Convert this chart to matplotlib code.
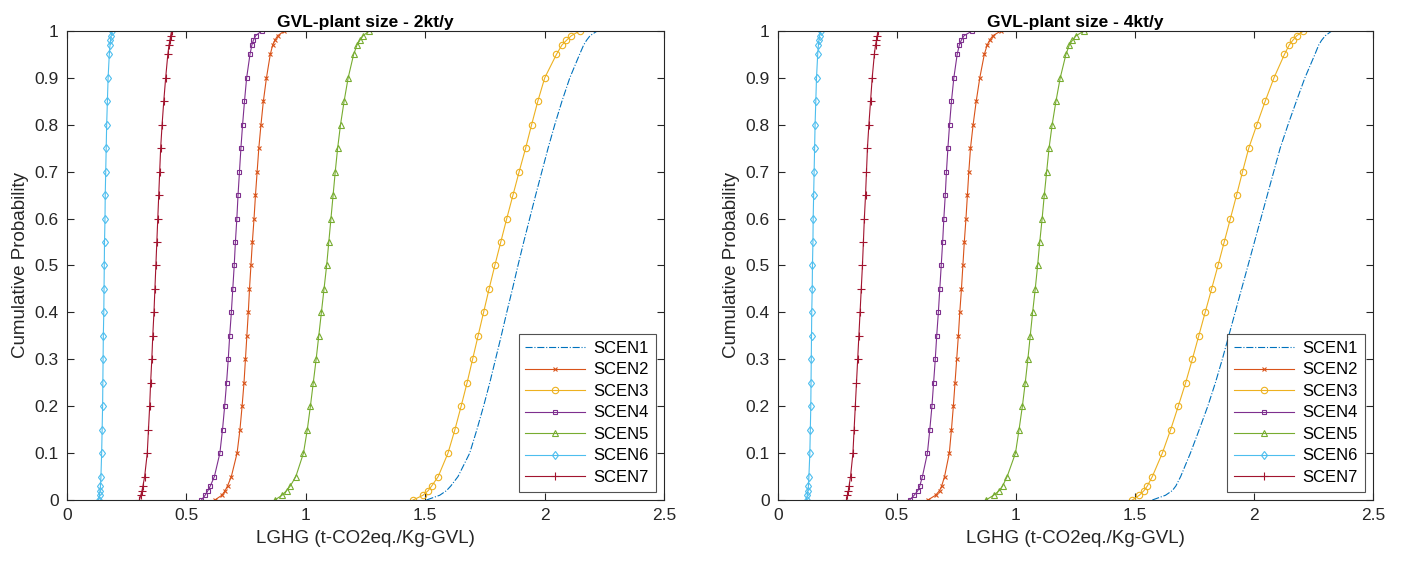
import matplotlib
matplotlib.use('Agg')
import matplotlib.pyplot as plt

plt.rcParams['font.family'] = ['Liberation Sans', 'DejaVu Sans']

# cumulative probability levels (common to every curve)
prob = [0, .01, .02, .03, .05, .1, .15, .2, .25, .3, .35, .4, .45, .5,
        .55, .6, .65, .7, .75, .8, .85, .9, .95, .97, .98, .99, 1]

scen_names = ['SCEN1', 'SCEN2', 'SCEN3', 'SCEN4', 'SCEN5', 'SCEN6', 'SCEN7']

# ---- GVL-plant size 2kt/y : LGHG value at each probability level ----
s2_scen1 = [1.505, 1.560, 1.589, 1.607, 1.637, 1.686, 1.716, 1.744, 1.770, 1.794,
            1.818, 1.841, 1.865, 1.888, 1.912, 1.937, 1.962, 1.988, 2.014, 2.042,
            2.072, 2.105, 2.146, 2.163, 2.175, 2.190, 2.220]
s2_scen2 = [0.619, 0.648, 0.662, 0.672, 0.688, 0.712, 0.724, 0.733, 0.741, 0.747,
            0.753, 0.759, 0.764, 0.770, 0.776, 0.783, 0.789, 0.796, 0.803, 0.812,
            0.822, 0.835, 0.851, 0.861, 0.870, 0.882, 0.910]
s2_scen3 = [1.449, 1.490, 1.512, 1.527, 1.554, 1.595, 1.624, 1.650, 1.675, 1.698,
            1.721, 1.744, 1.767, 1.791, 1.816, 1.841, 1.867, 1.893, 1.920, 1.945,
            1.971, 2.000, 2.049, 2.072, 2.091, 2.112, 2.146]
s2_scen4 = [0.563, 0.578, 0.590, 0.600, 0.617, 0.640, 0.651, 0.660, 0.668, 0.675,
            0.681, 0.688, 0.694, 0.700, 0.705, 0.711, 0.716, 0.722, 0.728, 0.735,
            0.743, 0.752, 0.766, 0.774, 0.780, 0.790, 0.815]
s2_scen5 = [0.870, 0.900, 0.919, 0.935, 0.958, 0.990, 1.006, 1.019, 1.031, 1.043,
            1.054, 1.065, 1.076, 1.087, 1.096, 1.105, 1.114, 1.123, 1.133, 1.145,
            1.160, 1.177, 1.200, 1.214, 1.226, 1.240, 1.265]
s2_scen6 = [0.132, 0.136, 0.138, 0.140, 0.142, 0.145, 0.147, 0.149, 0.150, 0.151,
            0.152, 0.154, 0.155, 0.156, 0.157, 0.159, 0.160, 0.162, 0.164, 0.166,
            0.169, 0.172, 0.177, 0.180, 0.182, 0.185, 0.190]
s2_scen7 = [0.303, 0.309, 0.314, 0.318, 0.325, 0.336, 0.341, 0.346, 0.350, 0.355,
            0.359, 0.364, 0.368, 0.372, 0.376, 0.380, 0.384, 0.388, 0.392, 0.398,
            0.405, 0.413, 0.422, 0.427, 0.431, 0.434, 0.438]

# ---- GVL-plant size 4kt/y ----
s4_scen1 = [1.573, 1.628, 1.657, 1.672, 1.692, 1.733, 1.770, 1.806, 1.838, 1.867,
            1.894, 1.921, 1.948, 1.975, 2.002, 2.029, 2.056, 2.083, 2.110, 2.143,
            2.178, 2.214, 2.256, 2.272, 2.284, 2.300, 2.327]
s4_scen2 = [0.630, 0.662, 0.679, 0.688, 0.700, 0.720, 0.729, 0.737, 0.744, 0.751,
            0.758, 0.764, 0.771, 0.777, 0.783, 0.790, 0.796, 0.802, 0.809, 0.820,
            0.833, 0.848, 0.867, 0.879, 0.889, 0.903, 0.937]
s4_scen3 = [1.489, 1.518, 1.538, 1.552, 1.573, 1.615, 1.650, 1.682, 1.713, 1.741,
            1.768, 1.795, 1.822, 1.849, 1.875, 1.901, 1.927, 1.952, 1.978, 2.012,
            2.047, 2.084, 2.128, 2.148, 2.163, 2.180, 2.208]
s4_scen4 = [0.553, 0.572, 0.588, 0.596, 0.607, 0.628, 0.638, 0.647, 0.654, 0.661,
            0.667, 0.674, 0.680, 0.686, 0.692, 0.697, 0.703, 0.708, 0.714, 0.721,
            0.729, 0.739, 0.753, 0.762, 0.770, 0.782, 0.816]
s4_scen5 = [0.874, 0.906, 0.930, 0.944, 0.963, 0.998, 1.013, 1.027, 1.039, 1.050,
            1.060, 1.070, 1.081, 1.091, 1.100, 1.110, 1.119, 1.129, 1.139, 1.152,
            1.168, 1.186, 1.210, 1.224, 1.237, 1.253, 1.286]
s4_scen6 = [0.120, 0.123, 0.126, 0.128, 0.130, 0.134, 0.136, 0.138, 0.139, 0.140,
            0.141, 0.142, 0.144, 0.145, 0.147, 0.148, 0.150, 0.152, 0.154, 0.156,
            0.159, 0.162, 0.167, 0.170, 0.172, 0.175, 0.180]
s4_scen7 = [0.288, 0.292, 0.296, 0.299, 0.305, 0.315, 0.320, 0.325, 0.330, 0.335,
            0.340, 0.345, 0.350, 0.355, 0.359, 0.363, 0.368, 0.372, 0.376, 0.382,
            0.389, 0.396, 0.405, 0.410, 0.414, 0.417, 0.421]

panels = [
    ('GVL-plant size - 2kt/y',
     [s2_scen1, s2_scen2, s2_scen3, s2_scen4, s2_scen5, s2_scen6, s2_scen7]),
    ('GVL-plant size - 4kt/y',
     [s4_scen1, s4_scen2, s4_scen3, s4_scen4, s4_scen5, s4_scen6, s4_scen7]),
]

# MATLAB default colour order
colors = ['#0072BD', '#D95319', '#EDB120', '#7E2F8E', '#77AC30', '#4DBEEE', '#A2142F']
styles = [
    dict(ls='-.', marker=None),
    dict(ls='-', marker='x', ms=3.5),
    dict(ls='-', marker='o', ms=4.6),
    dict(ls='-', marker='s', ms=3.3),
    dict(ls='-', marker='^', ms=4.5),
    dict(ls='-', marker='d', ms=4.5),
    dict(ls='-', marker='+', ms=6),
]

fig = plt.figure(figsize=(14.05, 5.64), dpi=100)
axes_pos = [[0.0477, 0.1135, 0.425, 0.8316],
            [0.5537, 0.1135, 0.4235, 0.8316]]
dark = '#262626'

for pos, (title, series) in zip(axes_pos, panels):
    ax = fig.add_axes(pos)
    for name, xs, c, st in zip(scen_names, series, colors, styles):
        ax.plot(xs, prob, color=c, lw=0.8, ls=st['ls'], marker=st['marker'],
                ms=st.get('ms', 5), mfc='none', mec=c, mew=0.8, label=name)
    ax.set_xlim(0, 2.5)
    ax.set_ylim(0, 1)
    ax.set_xticks([0, 0.5, 1, 1.5, 2, 2.5])
    ax.set_xticklabels(['0', '0.5', '1', '1.5', '2', '2.5'])
    ax.set_yticks([i / 10 for i in range(11)])
    ax.set_yticklabels(['0', '0.1', '0.2', '0.3', '0.4', '0.5', '0.6', '0.7',
                        '0.8', '0.9', '1'])
    ax.tick_params(direction='in', top=True, right=True, length=5, width=0.8,
                   colors=dark, labelsize=12.5, pad=6)
    for sp in ax.spines.values():
        sp.set_color(dark)
        sp.set_linewidth(0.8)
    ax.set_title(title, fontsize=12.5, fontweight='bold', color='black', pad=3)
    ax.set_xlabel('LGHG (t-CO2eq./Kg-GVL)', fontsize=13.5, color=dark, labelpad=5)
    ax.set_ylabel('Cumulative Probability', fontsize=13.5, color=dark, labelpad=4)
    leg = ax.legend(loc='lower right', fontsize=12, frameon=True, fancybox=False,
                    edgecolor=dark, handlelength=3.6, borderaxespad=0.5,
                    labelspacing=0.39, handletextpad=0.5, borderpad=0.4)
    leg.get_frame().set_linewidth(0.8)

fig.savefig('out.png', dpi=100)
